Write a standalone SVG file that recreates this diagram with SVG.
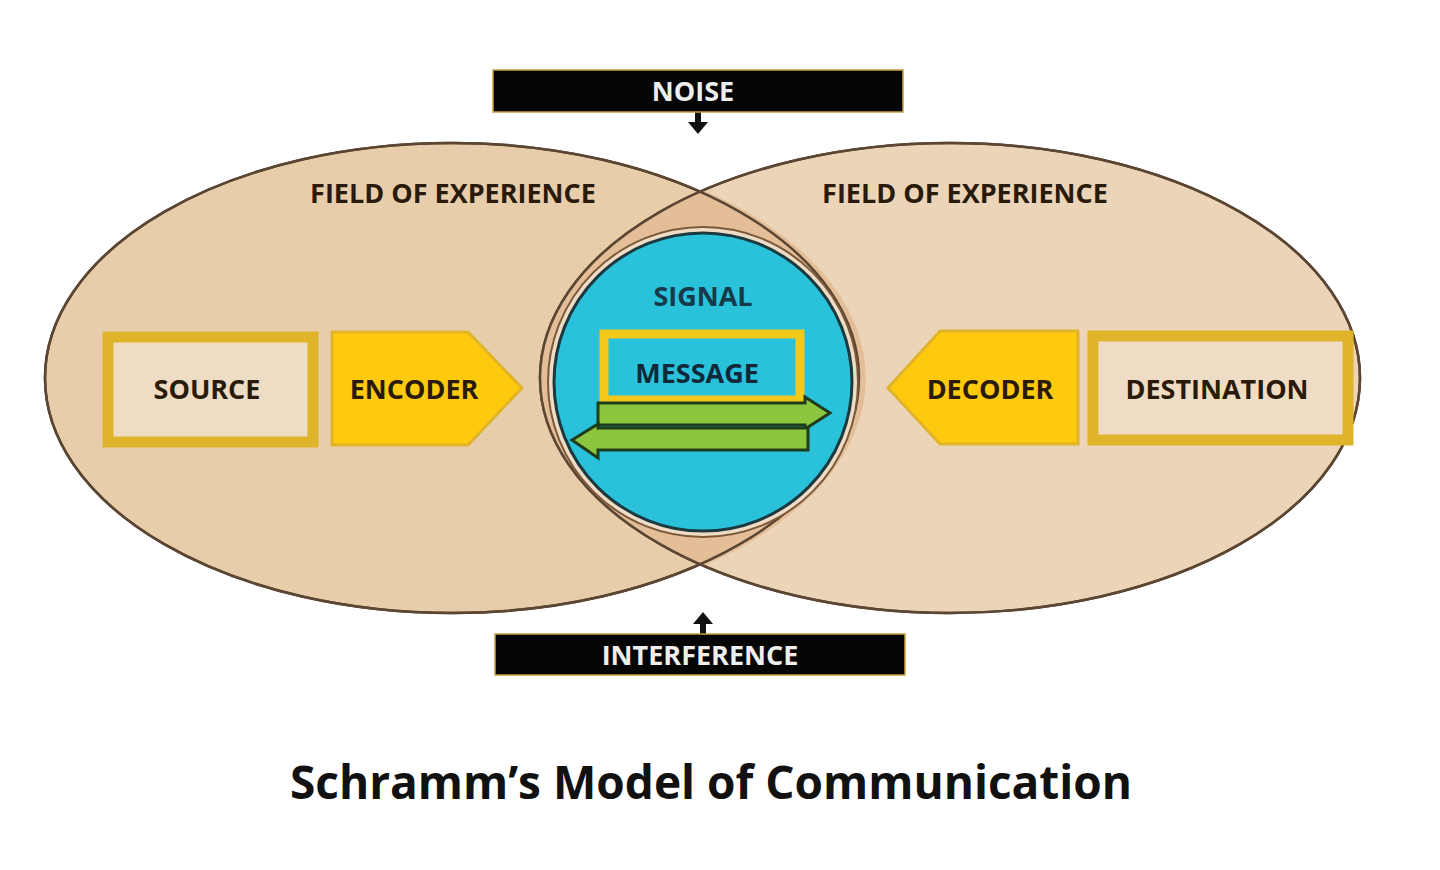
<svg xmlns="http://www.w3.org/2000/svg" width="1440" height="870" viewBox="0 0 1440 870">
<style>
.t{font-family:"Open Sans","Liberation Sans",sans-serif;font-weight:bold;text-anchor:middle}
.lbl{font-size:27px;fill:#2a1a0a}
.fld{fill:#E8CDAA;stroke:#5a4632;stroke-width:2.5}
.box{fill:#EEDCC4;stroke:#E0B42A;stroke-width:11}
.yel{fill:#FFC90E;stroke:#E0B42A;stroke-width:3}
.grn{fill:#8CC63F;stroke:#1f3d1a;stroke-width:3}
.blk{fill:#050505;stroke:#c8a040;stroke-width:1.5}
</style>
<rect width="1440" height="870" fill="#ffffff"/>
<g id="field-left"><ellipse class="fld" cx="452" cy="378" rx="407" ry="235"/></g>
<g id="field-right"><ellipse class="fld" cx="950" cy="378" rx="410" ry="235" fill-opacity="0.85"/>
<path d="M703,190 A407,235 0 0 1 703,566 A410,235 0 0 1 703,190Z" fill="#E3BE98" stroke="none"/>
<ellipse cx="452" cy="378" rx="407" ry="235" fill="none" stroke="#5a4632" stroke-width="2.5"/>
<ellipse cx="950" cy="378" rx="410" ry="235" fill="none" stroke="#5a4632" stroke-width="2.5"/></g>
<text class="t lbl" x="453" y="203">FIELD OF EXPERIENCE</text>
<text class="t lbl" x="965" y="203">FIELD OF EXPERIENCE</text>
<g id="signal"><circle cx="703" cy="382" r="155" fill="#F0DCC6" stroke="#7a5a3a" stroke-width="2"/>
<circle cx="703" cy="382" r="149" fill="#29C2DA" stroke="#1a3a40" stroke-width="3"/>
<text class="t lbl" x="703" y="306" style="fill:#163a4a">SIGNAL</text></g>
<g id="message"><rect x="604" y="334" width="196" height="66" fill="none" stroke="#F2C81A" stroke-width="9"/>
<text class="t lbl" x="697" y="383" style="fill:#102838">MESSAGE</text></g>
<g id="connectors">
<path class="grn" d="M598,403 H805 V397 L830,413 L805,429 V425 H598Z"/>
<path class="grn" d="M808,428 V450 H598 V458 L572,440 L598,424 V428Z"/>
<path d="M698,112 V124" stroke="#111" stroke-width="6"/><path d="M688,122 L708,122 L698,134Z" fill="#111"/>
<path d="M703,634 V622" stroke="#111" stroke-width="6"/><path d="M693,624 L713,624 L703,612Z" fill="#111"/>
</g>
<g id="source"><rect class="box" x="108" y="337" width="205" height="105"/><text class="t lbl" x="207" y="399">SOURCE</text></g>
<g id="encoder"><path class="yel" d="M332,332 H468 L522,388 L468,445 H332Z"/><text class="t lbl" x="414" y="399">ENCODER</text></g>
<g id="decoder"><path class="yel" d="M1078,331 H940 L888,388 L940,444 H1078Z"/><text class="t lbl" x="990" y="399">DECODER</text></g>
<g id="destination"><rect class="box" x="1093" y="336" width="255" height="104"/><text class="t lbl" x="1217" y="399">DESTINATION</text></g>
<g id="noise"><rect class="blk" x="493" y="70" width="410" height="42"/><text class="t" x="693" y="101" font-size="27" fill="#eeeeee">NOISE</text></g>
<g id="interference"><rect class="blk" x="495" y="634" width="410" height="41"/><text class="t" x="700" y="665" font-size="27" fill="#eeeeee">INTERFERENCE</text></g>
<text class="t" x="711" y="799" font-size="46" fill="#111">Schramm’s Model of Communication</text>
</svg>
